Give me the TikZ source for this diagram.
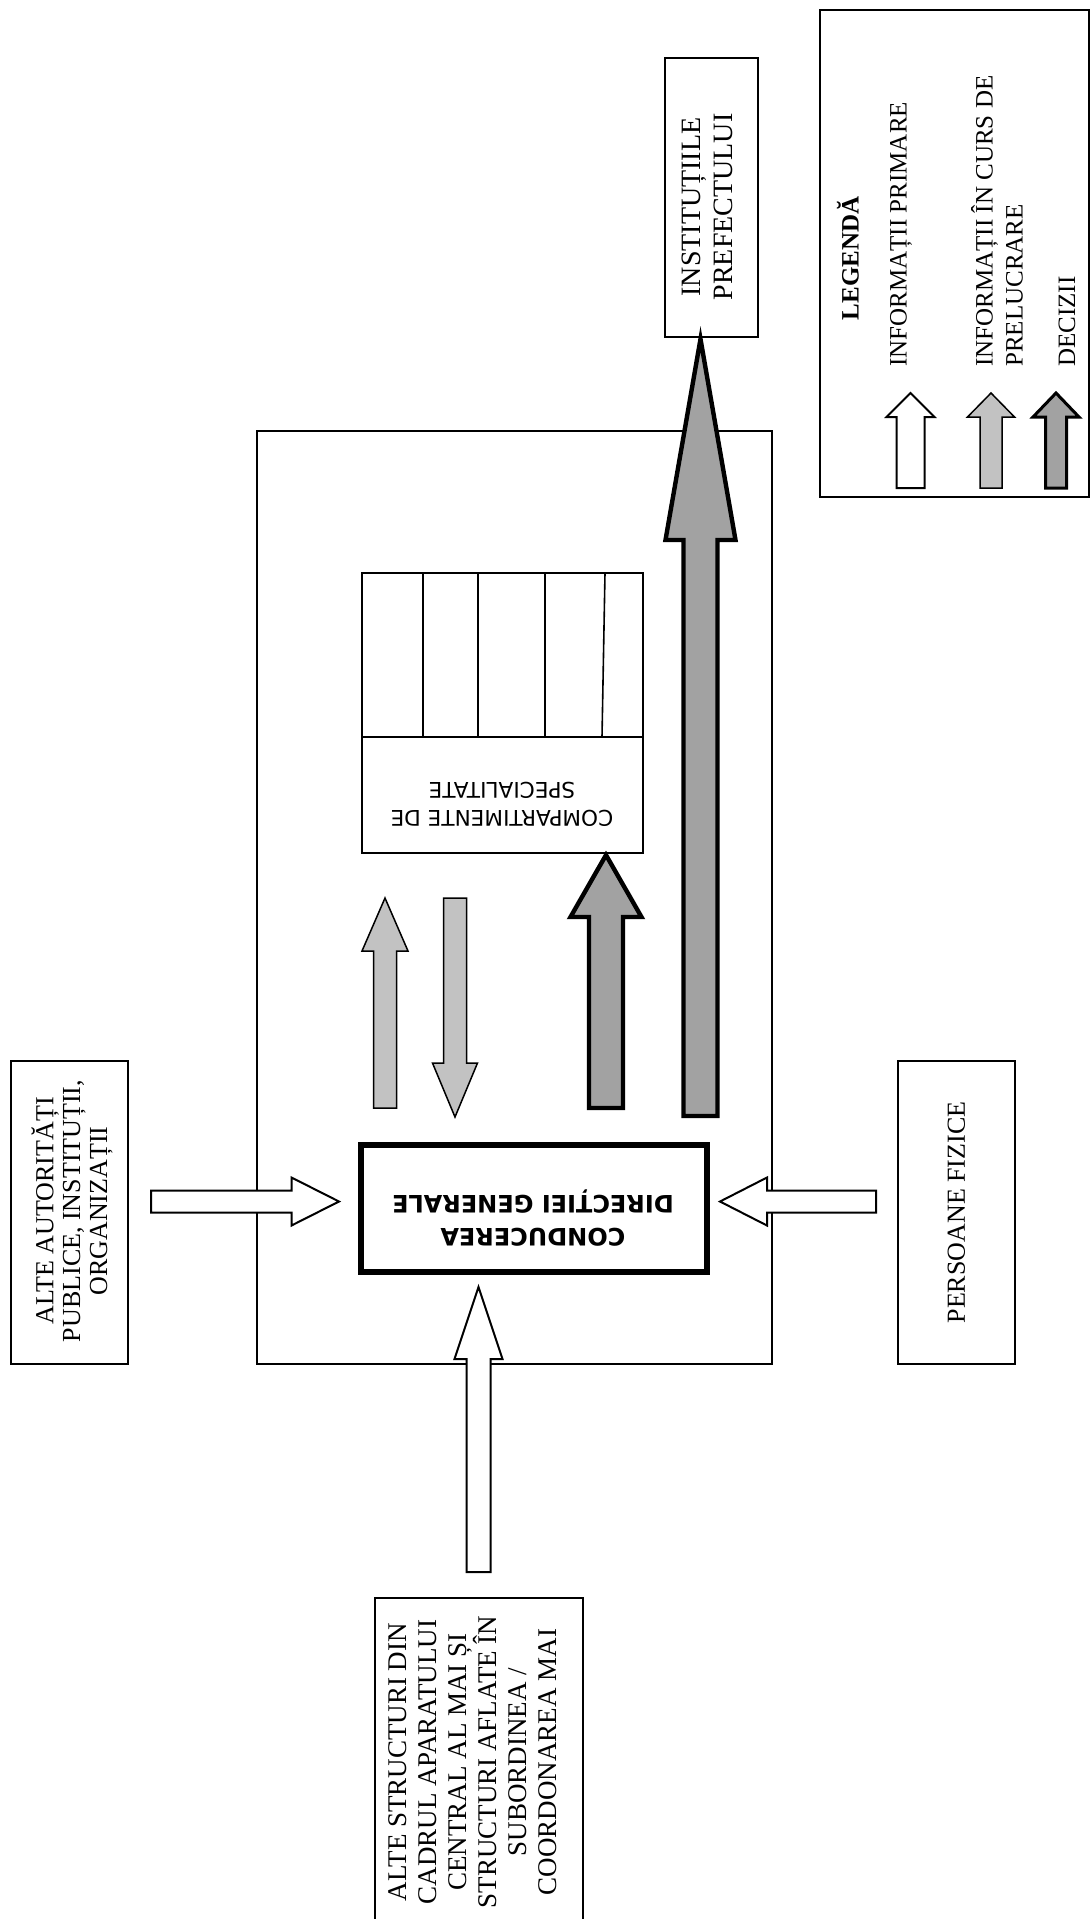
\documentclass[tikz,border=0pt]{standalone}
\usepackage{fontspec}
\setmainfont{Liberation Serif}
\setsansfont{Liberation Sans}
\newfontfamily\dejavu{DejaVu Sans}
\usetikzlibrary{calc}
\definecolor{lightarr}{RGB}{194,194,194}
\definecolor{darkarr}{RGB}{162,162,162}
% #1 style, #2 tail, #3 tip, #4 shaft half width, #5 head half width, #6 head length
\newcommand\ArrUp[6]{\draw[#1] ($(#2)+(-#4,0)$) -- ($(#3)+(-#4,#6)$) -- ($(#3)+(-#5,#6)$) -- (#3) -- ($(#3)+(#5,#6)$) -- ($(#3)+(#4,#6)$) -- ($(#2)+(#4,0)$) -- cycle;}
\newcommand\ArrDown[6]{\draw[#1] ($(#2)+(-#4,0)$) -- ($(#3)+(-#4,-#6)$) -- ($(#3)+(-#5,-#6)$) -- (#3) -- ($(#3)+(#5,-#6)$) -- ($(#3)+(#4,-#6)$) -- ($(#2)+(#4,0)$) -- cycle;}
\newcommand\ArrRight[6]{\draw[#1] ($(#2)+(0,-#4)$) -- ($(#3)+(-#6,-#4)$) -- ($(#3)+(-#6,-#5)$) -- (#3) -- ($(#3)+(-#6,#5)$) -- ($(#3)+(-#6,#4)$) -- ($(#2)+(0,#4)$) -- cycle;}
\newcommand\ArrLeft[6]{\draw[#1] ($(#2)+(0,-#4)$) -- ($(#3)+(#6,-#4)$) -- ($(#3)+(#6,-#5)$) -- (#3) -- ($(#3)+(#6,#5)$) -- ($(#3)+(#6,#4)$) -- ($(#2)+(0,#4)$) -- cycle;}
\begin{document}
\begin{tikzpicture}[x=0.5pt,y=-0.5pt,
  box/.style={draw, line width=1pt, inner sep=0pt},
  txt/.style={font=\fontsize{13.5}{15.5}\selectfont, align=center, inner sep=0pt},
  leg/.style={font=\fontsize{12.5}{15}\selectfont, align=left, inner sep=0pt},
  warr/.style={draw, fill=white, line width=1pt},
  larr/.style={draw, fill=lightarr, line width=0.75pt},
  darr/.style={draw, fill=darkarr, line width=2.2pt},
  divline/.style={line width=0.8pt}]
\useasboundingbox (0,0) rectangle (1090,1919);
\clip (0,0) rectangle (1090,1919);

% boxes
\node[box, minimum width=257.5pt, minimum height=466.5pt] (main) at (514.5,897.5) {};
\node[box, minimum width=58.5pt, minimum height=151.5pt] (alte) at (69.5,1212.5) {};
\node[txt, rotate=90, font=\fontsize{13}{13.4}\selectfont] (alteT) at (72,1211) {ALTE AUTORITĂȚI\\PUBLICE, INSTITUȚII,\\ORGANIZAȚII};
\node[box, minimum width=58.5pt, minimum height=151.5pt] (pers) at (956.5,1212.5) {};
\node[txt, rotate=90, font=\fontsize{13}{15}\selectfont] (persT) at (956.5,1212.5) {PERSOANE FIZICE};
\node[box, minimum width=46.5pt, minimum height=139.5pt] (inst) at (711.5,197.5) {};
\node[txt, rotate=90, font=\fontsize{14}{16}\selectfont] (instT) at (707,207) {INSTITUȚIILE\\PREFECTULUI};
\node[box, minimum width=104pt, minimum height=166pt] (str) at (479,1764) {};
\node[txt, rotate=90, font=\fontsize{13.5}{15}\selectfont] (strT) at (473,1762) {ALTE STRUCTURI DIN\\CADRUL APARATULUI\\CENTRAL AL MAI ȘI\\STRUCTURI AFLATE ÎN\\SUBORDINEA /\\COORDONAREA MAI};

% compartimente
\node[box, minimum width=140.5pt, minimum height=140pt] (comp) at (502.5,713) {};
\draw[divline] (362,737) -- (643,737);
\draw[divline] (423,573) -- (423,737);
\draw[divline] (478,573) -- (478,737);
\draw[divline] (545,573) -- (545,737);
\draw[divline] (605,573) -- (602,737);
\node[rotate=180, inner sep=0pt, align=center, font=\dejavu\fontsize{10.8}{14}\selectfont] (compT) at (502,804) {COMPARTIMENTE DE\\SPECIALITATE};

% conducerea
\node[draw, line width=3.2pt, inner sep=0pt, minimum width=173pt, minimum height=63.5pt] (cond) at (534,1208.5) {};
\node[rotate=180, inner sep=0pt, align=center, font=\dejavu\bfseries\fontsize{12}{16.5}\selectfont] (condT) at (533,1218) {CONDUCEREA\\DIRECȚIEI GENERALE};

% arrows
\coordinate (aL1) at (151,1201.5); \coordinate (aL2) at (339,1201.5);
\ArrRight{warr}{aL1}{aL2}{11}{24}{47.5}
\coordinate (aR1) at (876,1201.5); \coordinate (aR2) at (720,1201.5);
\ArrLeft{warr}{aR1}{aR2}{11}{24}{47}
\coordinate (aB1) at (478.5,1572); \coordinate (aB2) at (478.5,1287);
\ArrUp{warr}{aB1}{aB2}{12}{24}{72}
\coordinate (lu1) at (385,1108); \coordinate (lu2) at (385,898);
\ArrUp{larr}{lu1}{lu2}{11.5}{23}{53}
\coordinate (ld1) at (455,898); \coordinate (ld2) at (455,1117);
\ArrDown{larr}{ld1}{ld2}{11.5}{22.5}{54}
\coordinate (du1) at (606,1108); \coordinate (du2) at (606,855);
\ArrUp{darr}{du1}{du2}{17}{35.5}{62}
\coordinate (bu1) at (700.5,1116); \coordinate (bu2) at (700.5,339);
\ArrUp{darr}{bu1}{bu2}{17}{35}{201}

% legend
\node[box, minimum width=134.5pt, minimum height=243.5pt] (leg) at (954.5,253.5) {};
\node[leg, rotate=90, font=\bfseries\fontsize{12.5}{15}\selectfont] (legT) at (848,258.5) {LEGENDĂ};
\node[leg, rotate=90, anchor=west] (l1) at (901,367) {INFORMAȚII PRIMARE};
\node[leg, rotate=90, anchor=west] (l2) at (997,367) {INFORMAȚII ÎN CURS DE\\PRELUCRARE};
\node[leg, rotate=90, anchor=west] (l3) at (1067,367) {DECIZII};
\coordinate (lw1) at (910.5,488); \coordinate (lw2) at (910.5,393);
\ArrUp{warr}{lw1}{lw2}{14}{24}{24}
\coordinate (ll1) at (991,488); \coordinate (ll2) at (991,393);
\ArrUp{larr}{ll1}{ll2}{11}{23.5}{24}
\coordinate (lk1) at (1056,488); \coordinate (lk2) at (1056,393);
\ArrUp{darr, line width=1.5pt}{lk1}{lk2}{10.5}{23}{24}
\end{tikzpicture}
\end{document}
